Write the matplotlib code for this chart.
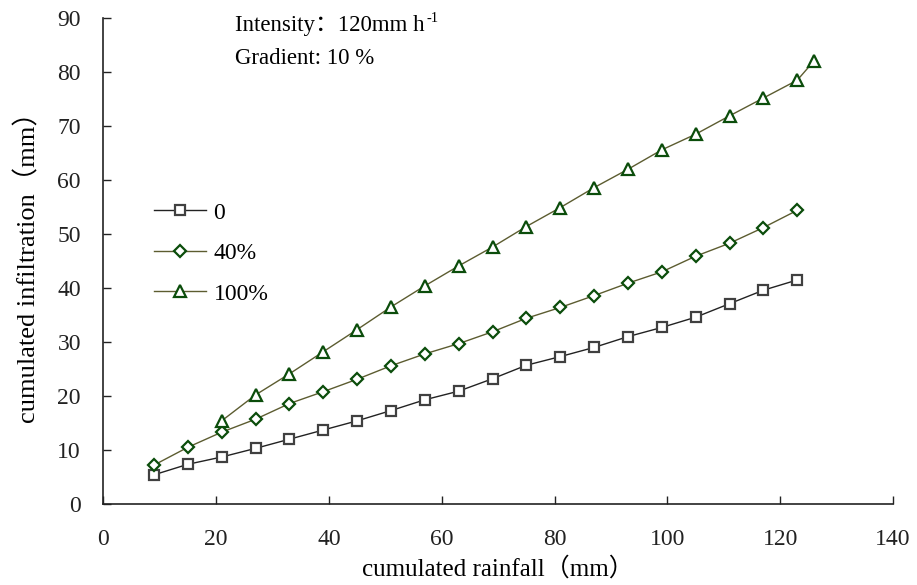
import matplotlib.pyplot as plt
import numpy as np

# datos
lluvia = [9, 15, 21, 27, 33, 39, 45, 51, 57, 63, 69, 75, 81, 87, 93, 99, 105, 111, 117, 123]
lluvia_100 = [21, 27, 33, 39, 45, 51, 57, 63, 69, 75, 81, 87, 93, 99, 105, 111, 117, 123, 126]

inf_0 = [5.4, 7.35, 8.7, 10.3, 12.0, 13.7, 15.4, 17.3, 19.3, 20.9, 23.2,
         25.7, 27.3, 29.0, 31.0, 32.7, 34.6, 37.1, 39.6, 41.5]
inf_40 = [7.2, 10.5, 13.3, 15.7, 18.6, 20.8, 23.1, 25.6, 27.8, 29.7, 31.9,
          34.4, 36.4, 38.6, 40.9, 43.0, 45.9, 48.3, 51.2, 54.4]
inf_100 = [15.4, 20.2, 24.1, 28.2, 32.3, 36.5, 40.4, 44.1, 47.6, 51.4, 54.9,
           58.6, 62.0, 65.6, 68.5, 71.9, 75.2, 78.5, 82.1]

etiquetas = ['0', '40%', '100%']

fuente = ['Liberation Serif', 'Noto Sans CJK SC']
plt.rcParams['font.family'] = fuente

fig = plt.figure(figsize=(9.17, 5.85), dpi=100)
ax = fig.add_axes([0.1125, 0.1385, 0.8615, 0.8305])

ax.plot(lluvia, inf_0, '-s', color='#222222', lw=1, ms=7.5, mfc='white',
        mec='#404040', mew=1.6, label=etiquetas[0])
ax.plot(lluvia, inf_40, '-D', color='#5c5c30', lw=1, ms=6, mfc='white',
        mec='#0b4d0b', mew=1.6, label=etiquetas[1])
ax.plot(lluvia_100, inf_100, '-^', color='#5c5c30', lw=1, ms=8.5, mfc='white',
        mec='#0b4d0b', mew=1.6, label=etiquetas[2])

ax.set_xlim(0, 140)
ax.set_ylim(0, 90)
ax.set_xticks(np.arange(0, 141, 20))
ax.set_yticks(np.arange(0, 91, 10))
ax.spines['top'].set_visible(False)
ax.spines['right'].set_visible(False)
for s in ['left', 'bottom']:
    ax.spines[s].set_linewidth(1.2)
    ax.spines[s].set_color('#222222')
ax.tick_params(direction='in', length=6, width=1, colors='#222222', labelsize=17)
ax.tick_params(axis='x', pad=18)
ax.tick_params(axis='y', pad=16)

ax.set_xlabel('cumulated rainfall（mm）', fontsize=18, labelpad=5)
ax.set_ylabel('cumulated infiltration（mm）', fontsize=19, labelpad=12)

# texto de condiciones
t1 = ax.text(0.167, 1.006, 'Intensity：120mm h', transform=ax.transAxes,
             fontsize=16.5, va='top', ha='left')
ax.annotate('-1', xy=(1, 1), xycoords=t1, xytext=(1, 2),
            textcoords='offset points', fontsize=10.5, va='top', ha='left')
ax.text(0.167, 0.938, 'Gradient: 10 %', transform=ax.transAxes,
        fontsize=16.5, va='top', ha='left')

ax.legend(loc='upper left', bbox_to_anchor=(0.038, 0.665), frameon=False,
          fontsize=17, handlelength=2.2, labelspacing=0.8, handletextpad=0.3)

fig.savefig('out.png', dpi=100)
